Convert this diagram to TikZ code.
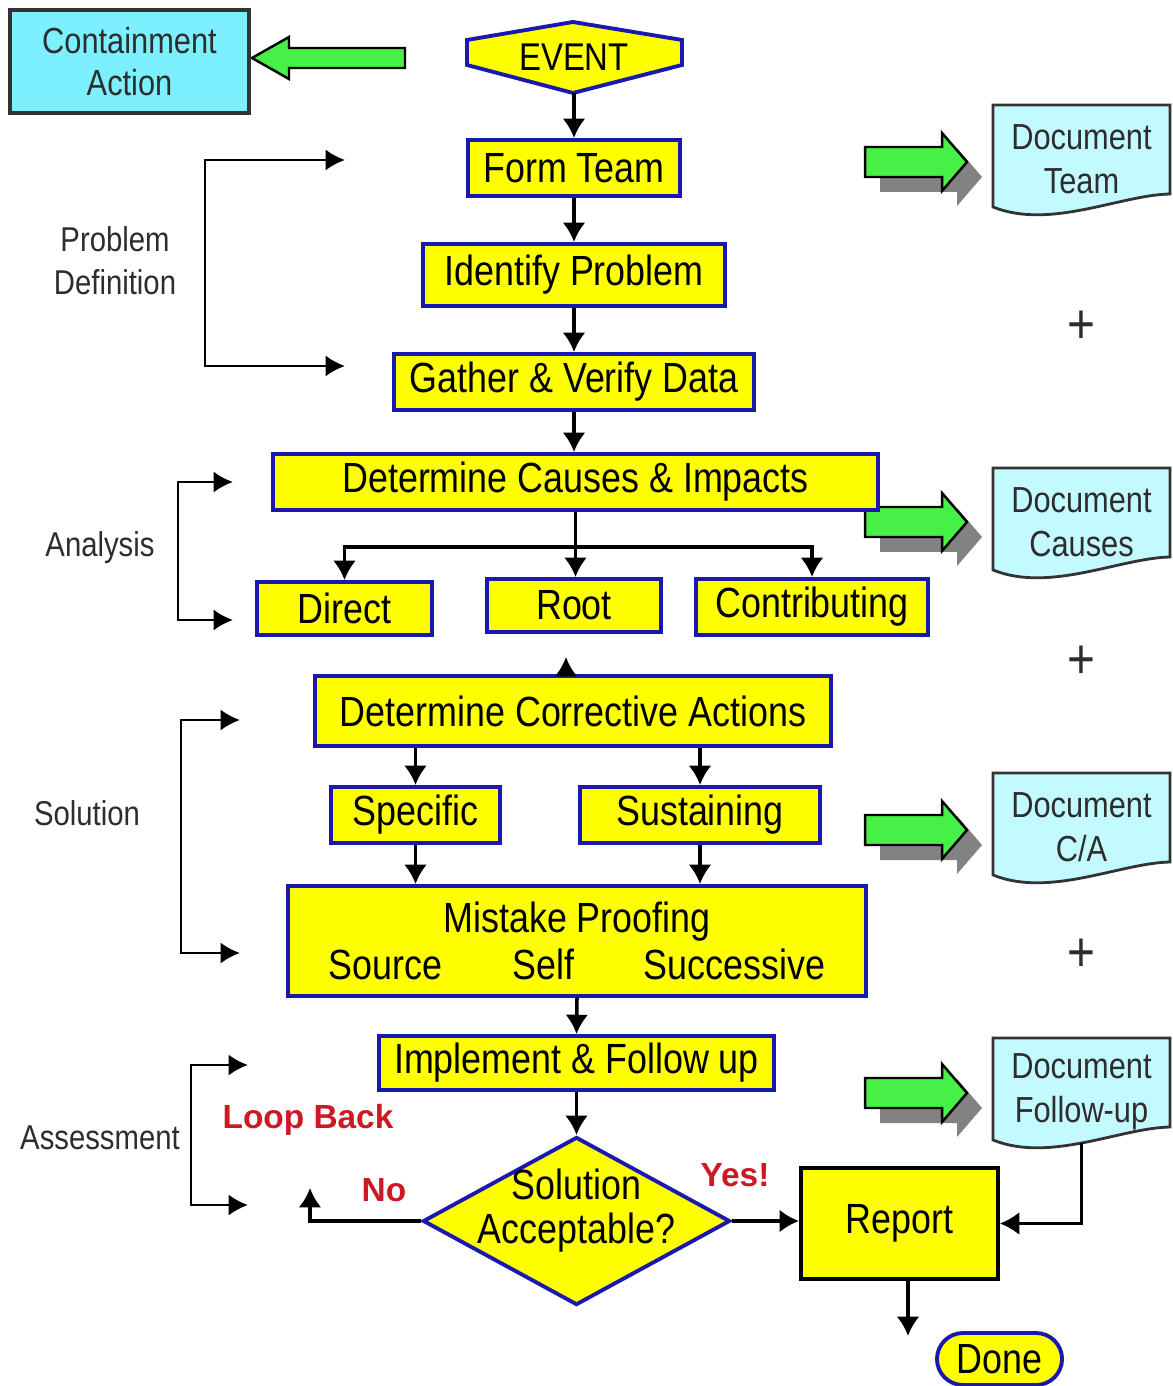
\documentclass[tikz,border=0pt]{standalone}
\usepackage{fontspec}
\setmainfont{Liberation Sans}[FakeStretch=0.85]
\newfontfamily\plainsans{Liberation Sans}
\usetikzlibrary{shapes.geometric,shapes.misc,arrows.meta,calc}

\definecolor{boxyellow}{RGB}{255,255,0}
\definecolor{boxblue}{RGB}{25,25,175}
\definecolor{doccyan}{RGB}{195,250,255}
\definecolor{actcyan}{RGB}{125,240,255}
\definecolor{arrgreen}{RGB}{70,240,70}
\definecolor{shadowgray}{RGB}{130,130,130}
\definecolor{loopred}{RGB}{205,25,35}
\definecolor{labelgray}{RGB}{45,45,45}

\begin{document}
\begin{tikzpicture}[x=0.01cm, y=-0.01cm,
        stepbox/.style={rectangle, draw=boxblue, fill=boxyellow, line width=1.1pt,
        inner sep=0pt, font=\fontsize{12}{13.4}\selectfont, align=center},
        docnode/.style={rectangle, inner sep=0pt, minimum width=1.77cm,
        minimum height=1cm, font=\fontsize{10.3}{12.5}\selectfont,
        text=labelgray, align=center},
        docwave/.style={draw=black!80, fill=doccyan, line width=0.8pt},
        sidelabel/.style={font=\fontsize{9.8}{12.2}\selectfont, text=labelgray,
        align=center},
        redlabel/.style={font=\plainsans\bfseries\fontsize{9.5}{11}\selectfont,
        text=loopred},
        arr/.style={-{Latex[length=5.5pt,width=6.5pt]}, line width=1pt},
        bracket/.style={{Latex[length=5.5pt,width=6pt]}-{Latex[length=5.5pt,width=6pt]},
        line width=0.8pt},
        blockarrow/.style={draw=black, fill=arrgreen, line width=0.7pt}
        ]
    \useasboundingbox (0,0) rectangle (1172,1386);

    % shapes drawn behind the nodes
    \filldraw[stepbox] (467,40) -- (573,22) -- (682,40) -- (682,65)
        -- (573,93) -- (467,65) -- cycle;
    \foreach \dy in {105,468,773,1038}
        \filldraw[docwave] (993,\dy) -- (1170,\dy) -- (1170,\dy+89)
            .. controls (1120,\dy+90) and (1050,\dy+125) .. (993,\dy+102) -- cycle;
    \foreach \yc in {162,522,830,1093} {
        \fill[shadowgray, shift={(15,15)}] (865,\yc-15) -- (942,\yc-15) -- (942,\yc-29)
            -- (967,\yc) -- (942,\yc+29) -- (942,\yc+15) -- (865,\yc+15) -- cycle;
        \filldraw[blockarrow] (865,\yc-15) -- (942,\yc-15) -- (942,\yc-29)
            -- (967,\yc) -- (942,\yc+29) -- (942,\yc+15) -- (865,\yc+15) -- cycle;
    }
    \filldraw[blockarrow] (405,48) -- (289,48) -- (289,37) -- (252,58)
        -- (289,79) -- (289,68) -- (405,68) -- cycle;

    \node[rectangle, draw=black!80, fill=actcyan, line width=1pt, inner sep=0pt,
        minimum width=2.39cm, minimum height=1.03cm, align=center,
        font=\fontsize{10.3}{12}\selectfont, text=labelgray] (contain) at (129.5,61.5)
        {Containment\\Action};

    \node[font=\fontsize{11}{12}\selectfont, minimum width=2.15cm,
        minimum height=0.71cm, inner sep=0pt] (st_event) at (574,57) {EVENT};
    \node[stepbox, minimum width=2.12cm, minimum height=0.56cm] (st_team) at (574,168) {Form Team};
    \node[stepbox, minimum width=3.01cm, minimum height=0.62cm] (st_ident) at (574,275) {Identify Problem};
    \node[stepbox, minimum width=3.59cm, minimum height=0.56cm] (st_data) at (574,382) {Gather \& Verify Data};
    \node[stepbox, minimum width=6.05cm, minimum height=0.56cm] (st_cause) at (575.5,482) {Determine Causes \& Impacts};
    \node[stepbox, minimum width=1.75cm, minimum height=0.53cm] (st_direct) at (344.5,608.5) {Direct};
    \node[stepbox, minimum width=1.74cm, minimum height=0.53cm] (st_root) at (574,605.5) {Root};
    \node[stepbox, minimum width=2.32cm, minimum height=0.56cm] (st_contrib) at (812,607) {Contributing};
    \node[stepbox, minimum width=5.16cm, minimum height=0.70cm] (st_corr) at (573,711) {Determine Corrective Actions};
    \node[stepbox, minimum width=1.69cm, minimum height=0.56cm] (st_spec) at (415.5,815) {Specific};
    \node[stepbox, minimum width=2.40cm, minimum height=0.56cm] (st_sust) at (700,815) {Sustaining};
    \node[stepbox, minimum width=5.78cm, minimum height=1.10cm] (st_proof) at (577,941)
        {Mistake Proofing\\\makebox[4.96cm]{Source\hfill Self\hfill Successive}};
    \node[stepbox, minimum width=3.95cm, minimum height=0.54cm] (st_impl) at (576.5,1063) {Implement \& Follow up};
    \node[diamond, draw=boxblue, fill=boxyellow, line width=1.1pt, inner sep=0pt,
        aspect=1.83, minimum width=3.07cm, minimum height=1.68cm,
        label={[font=\fontsize{12}{12.5}\selectfont, align=center, yshift=0.1cm]center:Solution\\Acceptable?}]
        (st_ok) at (576.5,1221) {};
    \node[stepbox, draw=black, minimum width=1.97cm, minimum height=1.11cm] (st_report) at (899.5,1223.5) {Report};
    \node[rounded rectangle, draw=boxblue, fill=boxyellow, line width=1.1pt, inner sep=0pt,
        minimum width=1.25cm, minimum height=0.52cm, font=\fontsize{12}{13}\selectfont]
        (st_done) at (999.5,1359) {Done};

    \node[docnode] (doc_team) at (1081.5,159) {Document\\Team};
    \node[docnode] (doc_cause) at (1081.5,522) {Document\\Causes};
    \node[docnode] (doc_ca) at (1081.5,827) {Document\\C/A};
    \node[docnode] (doc_follow) at (1081.5,1092) {Document\\Follow-up};

    \foreach \y [count=\i] in {327,662,955}
        \node[font=\fontsize{16}{16}\selectfont, text=labelgray] (plus_\i) at (1081,\y) {+};

    \node[sidelabel] (lab_def) at (115,261) {Problem\\Definition};
    \node[sidelabel] (lab_ana) at (100,548) {Analysis};
    \node[sidelabel] (lab_sol) at (87,813) {Solution};
    \node[sidelabel] (lab_ass) at (100,1138) {Assessment};
    \node[redlabel] (lab_loop) at (308,1120) {Loop Back};
    \node[redlabel] (lab_no) at (384,1190) {No};
    \node[redlabel] (lab_yes) at (735,1175) {Yes!};

    \foreach \xa/\xb/\ya/\yb in {205/345/160/366, 178/233/482/620, 181/240/720/953, 191/248/1065/1205}
        \draw[bracket] (\xb,\ya) -| (\xa,\yb) -- (\xb,\yb);

    \draw[arr] (st_event.south) -- (st_team.north);
    \draw[arr] (st_team.south) -- (st_ident.north);
    \draw[arr] (st_ident.south) -- (st_data.north);
    \draw[arr] (st_data.south) -- (st_data.south |- st_cause.north);
    \draw[arr] (st_cause.south) -- ++(0,35) -| (st_direct.north);
    \draw[arr] (st_cause.south) -- ++(0,35) -| (st_contrib.north);
    \draw[arr] (st_cause.south) -- (st_cause.south |- st_root.north);
    \draw[arr] ([xshift=-0.07cm]st_corr.north) -- ++(0,-17);
    \draw[arr] (st_spec.north |- st_corr.south) -- (st_spec.north);
    \draw[arr] (st_sust.north |- st_corr.south) -- (st_sust.north);
    \draw[arr] (st_spec.south) -- (st_spec.south |- st_proof.north);
    \draw[arr] (st_sust.south) -- (st_sust.south |- st_proof.north);
    \draw[arr] (st_proof.south) -- (st_impl.north);
    \draw[arr] (st_impl.south) -- (st_ok.north);
    \draw[arr] (st_ok.east) -- (st_ok.east -| st_report.west);
    \coordinate (loop_end) at (310,1188);
    \draw[arr] (st_ok.west) -| (loop_end);
    \draw[arr, line width=0.7pt] (doc_follow.south) |- (st_report.east);
    \coordinate (report_out) at (908,1336);
    \draw[arr] (report_out |- st_report.south) -- (report_out);
\end{tikzpicture}
\end{document}
